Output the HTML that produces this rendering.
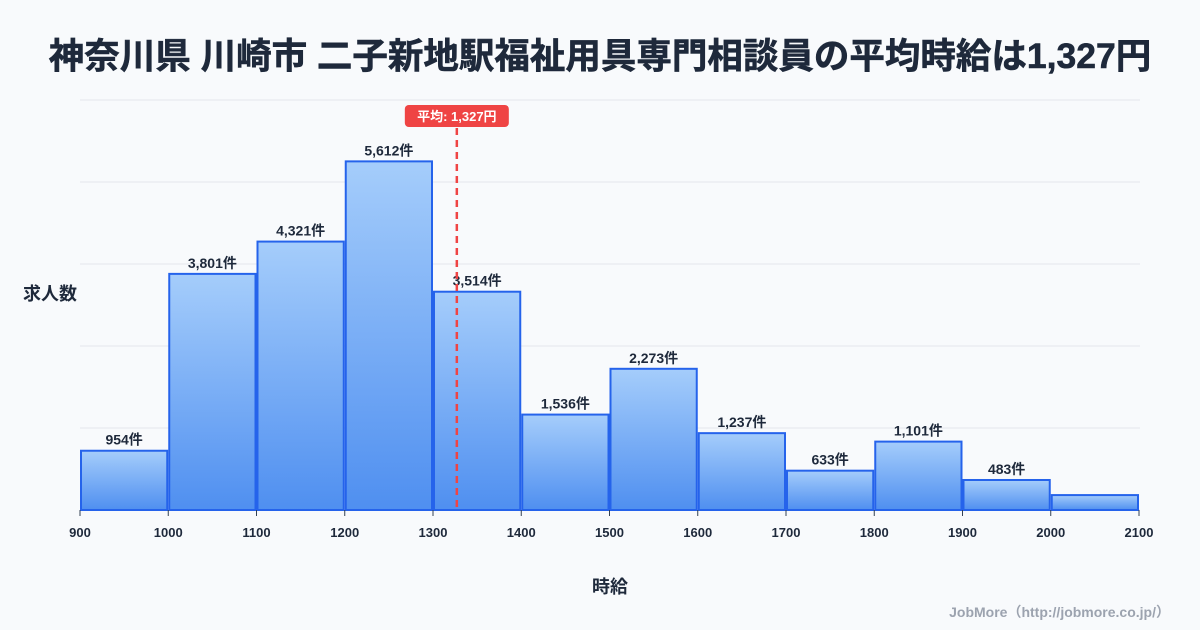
<!DOCTYPE html>
<html><head><meta charset="utf-8">
<style>
body{margin:0;background:#f8fafc;}
svg{display:block;font-family:"Liberation Sans","Noto Sans CJK JP",sans-serif;}
</style></head>
<body>
<svg id="c" width="1200" height="630">
<defs><linearGradient id="g" x1="0" y1="0" x2="0" y2="1"><stop offset="0" stop-color="#a5cdfb"/><stop offset="1" stop-color="#4f8ff0"/></linearGradient></defs>
<rect width="1200" height="630" fill="#f8fafc"/>
<text x="600" y="68" text-anchor="middle" font-size="35.5" font-weight="bold" fill="#1e293b" stroke="#1e293b" stroke-width="0.6">神奈川県 川崎市 二子新地駅福祉用具専門相談員の平均時給は1,327円</text>
<text x="50" y="300" text-anchor="middle" font-size="18" font-weight="bold" fill="#1e293b">求人数</text>
<text x="610" y="593" text-anchor="middle" font-size="18" font-weight="bold" fill="#1e293b">時給</text>
<text x="1170" y="617" text-anchor="end" font-size="14" font-weight="bold" fill="#9ca3af">JobMore（http://jobmore.co.jp/）</text>
<g id="grid"></g><g id="bars"></g><g id="ticks"></g><g id="mean"></g>
</svg>
<script>
const binStarts=[900,1000,1100,1200,1300,1400,1500,1600,1700,1800,1900,2000];
const counts=[954,3801,4321,5612,3514,1536,2273,1237,633,1101,483,240];
const showLabel=[true,true,true,true,true,true,true,true,true,true,true,false];
const xTicks=[900,1000,1100,1200,1300,1400,1500,1600,1700,1800,1900,2000,2100];
const meanValue=1327;
const NS="http://www.w3.org/2000/svg";
const x=v=>80+(v-900)*(1139-80)/1200;
const y=v=>510-v*410/6600;
function mk(t,a,p){const e=document.createElementNS(NS,t);for(const k in a)e.setAttribute(k,a[k]);p.appendChild(e);return e;}
const grid=document.getElementById('grid'),bars=document.getElementById('bars'),ticks=document.getElementById('ticks'),mean=document.getElementById('mean');
for(let i=0;i<=5;i++){const gv=i*1320;const l=mk('line',{x1:80,x2:1140,y1:y(gv),y2:y(gv),stroke:'#e5e7eb','stroke-width':1},grid);

}
binStarts.forEach((s,i)=>{const x0=x(s)+1,x1=x(s+100)-1;
const r=mk('rect',{x:x0,y:y(counts[i]),width:x1-x0,height:510-y(counts[i]),fill:'url(#g)',stroke:'#2563eb','stroke-width':2},bars);


if(showLabel[i]){const t=mk('text',{x:(x0+x1)/2,y:y(counts[i])-6,'text-anchor':'middle','font-size':14,'font-weight':'bold',fill:'#1e293b'},bars);t.textContent=counts[i].toLocaleString('en-US')+'件';

}});
xTicks.forEach(v=>{mk('line',{x1:x(v),x2:x(v),y1:510,y2:516,stroke:'#334155'},ticks);
const t=mk('text',{x:x(v),y:537,'text-anchor':'middle','font-size':13,'font-weight':'bold',fill:'#1e293b'},ticks);t.textContent=v;

});
const mx=x(meanValue);
const ml=mk('line',{x1:mx,x2:mx,y1:128,y2:510,stroke:'#ef4444','stroke-width':2.5,'stroke-dasharray':'7,5'},mean);


const mb=mk('rect',{x:mx-52,y:105,width:104,height:22,rx:4,fill:'#ef4444'},mean);


const mt=mk('text',{x:mx,y:121,'text-anchor':'middle','font-size':13,'font-weight':'bold',fill:'#fff'},mean);mt.textContent='平均: 1,327円';


</script>
</body></html>
